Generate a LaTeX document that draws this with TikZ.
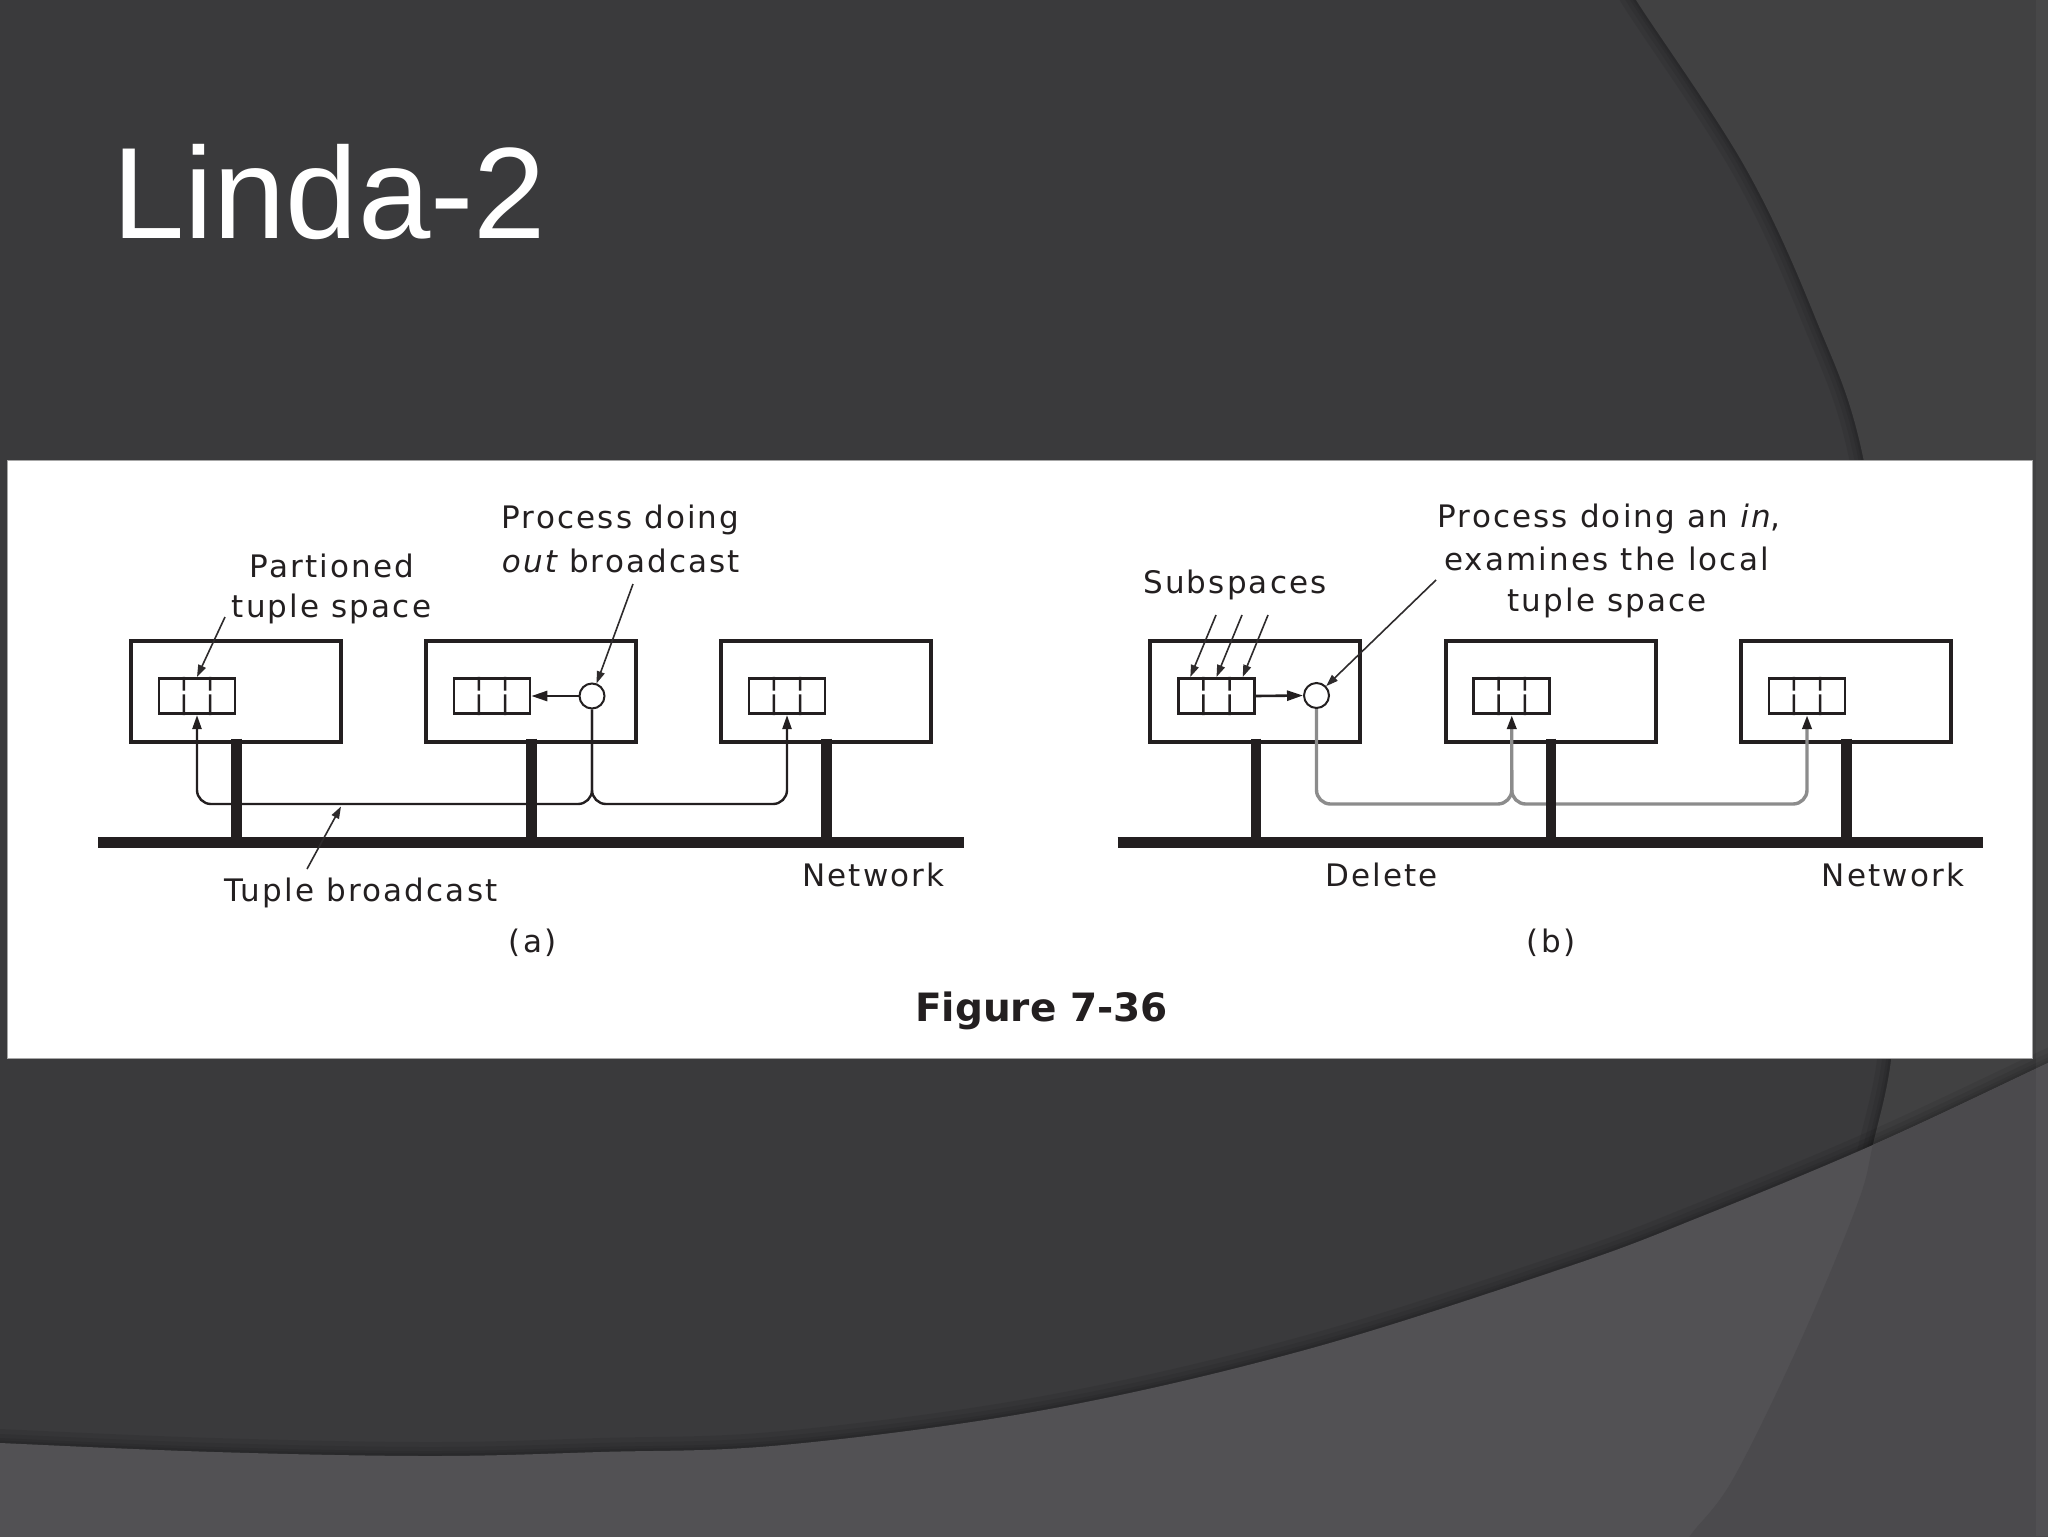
\documentclass[tikz,border=0pt]{standalone}
\usepackage{fontspec}
\usetikzlibrary{arrows.meta,calc}
\newfontfamily\figfont[LetterSpace=7]{DejaVu Sans}
\newfontfamily\figboldfont{DejaVu Sans}
\newfontfamily\titlefont{Liberation Sans}
\definecolor{bgbase}{HTML}{3A3A3C}
\definecolor{bgA}{HTML}{414142}
\definecolor{bgB}{HTML}{525154}
\definecolor{bgAB}{HTML}{4B4A4D}
\definecolor{figblack}{HTML}{231F20}
\definecolor{anncol}{HTML}{2E2B2C}
\definecolor{lgray}{HTML}{8C8C8C}
\begin{document}
\begin{tikzpicture}[x=0.5pt,y=-0.5pt,
  fig/.style={font={\figfont\fontsize{15.5pt}{18pt}\selectfont}, text=figblack, inner sep=0pt, anchor=base},
  figbold/.style={font={\figboldfont\bfseries\fontsize{19.5pt}{22pt}\selectfont}, text=figblack, inner sep=0pt, anchor=base},
  hostbox/.style={draw=figblack, line width=1.6pt, minimum width=105pt, minimum height=50.5pt, inner sep=0pt, fill=white},
  tuplebox/.style={draw=figblack, line width=1.3pt, minimum width=38pt, minimum height=17.75pt, inner sep=0pt, fill=white},
  proc/.style={draw=figblack, circle, line width=1pt, minimum size=12.5pt, inner sep=0pt, fill=white},
  net/.style={draw=figblack, line width=5.5pt},
  stub/.style={draw=figblack, line width=5.2pt, shorten <=-2.5pt},
  divider/.style={draw=figblack, line width=1.2pt},
  localarrow/.style={draw=figblack, line width=1.3pt, -{Triangle[length=8pt,width=5pt]}},
  bcast/.style={draw=figblack, line width=1.2pt, rounded corners=7pt, -{Triangle[length=7pt,width=4.5pt]}},
  gbcast/.style={draw=lgray, line width=1.7pt, rounded corners=7pt, -{Triangle[length=7pt,width=4.5pt,color=figblack]}},
  ann/.style={draw=anncol, line width=0.8pt, -{Triangle[length=6pt,width=4pt]}},
  shadowline/.style={draw=black, opacity=0.07, line width=#1},
]
\useasboundingbox (0,0) rectangle (2048,1536);
\clip (0,0) rectangle (2048,1536);

% ---------- background ----------
\fill[bgbase] (0,0) rectangle (2048,1536);
\def\curveA{plot[smooth, tension=0.6] coordinates {(1624,-25) (1636,0) (1745,167) (1815,317) (1863,457) (1896,700) (1897,950) (1891,1060) (1873,1144) (1857,1205) (1800,1342) (1733,1479) (1690,1536) (1680,1560)}}
\def\curveB{plot[smooth, tension=0.6] coordinates {(-30,1441) (0,1443) (215,1452) (431,1456) (600,1452) (783,1445) (1044,1410) (1305,1350) (1567,1267) (1700,1217) (1875,1144) (2048,1063) (2080,1048)}}
\foreach \w in {14pt,9pt,5pt,2.5pt}{\draw[shadowline=\w] \curveA;}
\fill[bgA] \curveA -- (2080,1560) -- (2080,-25) -- cycle;
\foreach \w in {14pt,9pt,5pt,2.5pt}{\draw[shadowline=\w] \curveB;}
\fill[bgB] \curveB -- (2080,1560) -- (-30,1560) -- cycle;
\begin{scope}
  \clip \curveA -- (2080,1560) -- (2080,-25) -- cycle;
  \fill[bgAB] \curveB -- (2080,1560) -- (-30,1560) -- cycle;
\end{scope}
\fill[white, opacity=0.035] (2036,0) rectangle (2048,1536);

% ---------- title ----------
\node[anchor=base west, inner sep=0pt, text=white,
      font={\titlefont\fontsize{65pt}{70pt}\selectfont}] (title) at (112,238) {Linda-2};

% ---------- panel ----------
\node[draw=gray!70, line width=0.4pt, fill=white, inner sep=0pt, anchor=north west,
      minimum width=1012.75pt, minimum height=299pt] (panel) at (6.5,460) {};

% ---------- part (a) ----------
\node[hostbox] (A1) at (236,691.5) {};
\node[hostbox] (A2) at (531,691.5) {};
\node[hostbox] (A3) at (826,691.5) {};
\node[tuplebox] (TA1) at (197,696) {};
\node[tuplebox] (TA2) at (492,696) {};
\node[tuplebox] (TA3) at (787,696) {};
\node[proc] (cA) at (592,696) {};

% ---------- part (b) ----------
\node[hostbox] (B1) at (1255,691.5) {};
\node[hostbox] (B2) at (1551,691.5) {};
\node[hostbox] (B3) at (1846,691.5) {};
\node[tuplebox] (TB1) at (1216.5,696) {};
\node[tuplebox] (TB2) at (1511.75,696) {};
\node[tuplebox] (TB3) at (1807,696) {};
\node[proc] (cB) at (1316.5,695.5) {};

% dividers of the tuple boxes
\foreach \t in {TA1,TA2,TA3,TB1,TB2,TB3}{
  \foreach \f in {0.3333,0.6667}{
    \path ($(\t.north west)!\f!(\t.north east)$) coordinate (dp)
          ($(\t.south west)!\f!(\t.south east)$) coordinate (dq);
    \draw[divider] (dp) -- ($(dp)!0.36!(dq)$) ($(dp)!0.46!(dq)$) -- (dq);
  }
}

% local arrows
\draw[localarrow] (cA.west) -- (TA2.east);
\draw[localarrow] (TB1.east) -- (cB.west);

% broadcast lines
\coordinate (yA) at (0,804);
\coordinate (yB) at (0,804);
\coordinate (yJ) at (0,770);
\draw[bcast] (cA.south) |- (TA1.south |- yA) -- (TA1.south);
\draw[bcast] (cA.south) |- (TA3.south |- yA) -- (TA3.south);
\draw[gbcast] (cB.south) |- (TB2.south |- yB) -- (TB2.south);
\draw[gbcast] (TB2.south |- yJ) |- (TB3.south |- yB) -- (TB3.south);

% networks and stubs
\coordinate (nAL) at (98,842.5);
\coordinate (nAR) at (964,842.5);
\coordinate (nBL) at (1117.5,842.5);
\coordinate (nBR) at (1983,842.5);
\draw[net] (nAL) -- (nAR);
\draw[net] (nBL) -- (nBR);
\draw[stub] (TA1.east |- A1.south) -- (TA1.east |- nAL);
\draw[stub] (TA2.east |- A2.south) -- (TA2.east |- nAL);
\draw[stub] (TA3.east |- A3.south) -- (TA3.east |- nAL);
\draw[stub] (TB1.east |- B1.south) -- (TB1.east |- nBL);
\draw[stub] (TB2.east |- B2.south) -- (TB2.east |- nBL);
\draw[stub] (TB3.east |- B3.south) -- (TB3.east |- nBL);

% ---------- labels ----------
\node[fig] (partL1) at (332,577) {Partioned};
\node[fig] (partL2) at (331.5,617) {tuple space};
\node[fig] (procAL1) at (620.5,528) {Process doing};
\node[fig] (procAL2) at (621,572) {\itshape out\upshape{} broadcast};
\node[fig] (tupL) at (361,901) {Tuple broadcast};
\node[fig] (netAL) at (873.5,886.5) {Network};
\node[fig] (capA) at (532.7,952) {(a)};

\node[fig] (subL) at (1235,593) {Subspaces};
\node[fig] (procBL1) at (1609,527) {Process doing an \itshape in\upshape,};
\node[fig] (procBL2) at (1606.5,570.5) {examines the local};
\node[fig] (procBL3) at (1607,611) {tuple space};
\node[fig] (delL) at (1381.5,886.5) {Delete};
\node[fig] (netBL) at (1893,886.5) {Network};
\node[fig] (capB) at (1551,952) {(b)};

\node[figbold] (figL) at (1041.5,1021.7) {Figure 7-36};

% ---------- annotation arrows ----------
\coordinate (partS) at (225,617);
\draw[ann] (partS) -- (TA1.north);
\coordinate (procAS) at (633,584);
\draw[ann] (procAS) -- (cA);
\coordinate (tupS) at (307,869);
\coordinate (tupE) at (341,806.5);
\draw[ann] (tupS) -- (tupE);
\coordinate (subS1) at (1216,615);
\coordinate (subS2) at (1242,615);
\coordinate (subS3) at (1268,615);
\draw[ann] (subS1) -- ($(TB1.north west)!0.1667!(TB1.north east)$);
\draw[ann] (subS2) -- ($(TB1.north west)!0.5!(TB1.north east)$);
\draw[ann] (subS3) -- ($(TB1.north west)!0.8333!(TB1.north east)$);
\coordinate (procBS) at (1436,580);
\draw[ann] (procBS) -- (cB);
\end{tikzpicture}
\end{document}
